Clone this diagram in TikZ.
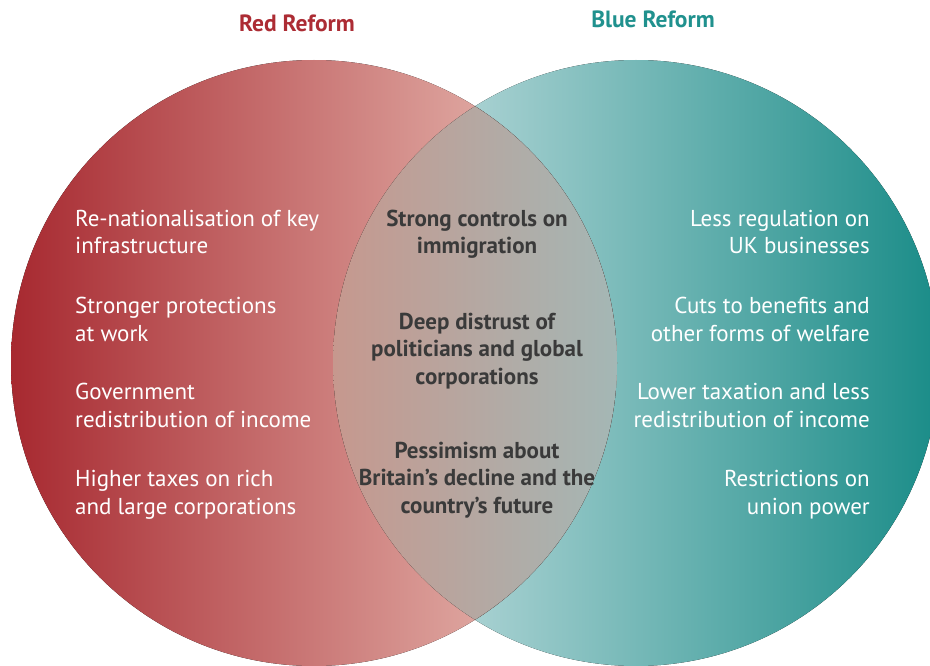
\documentclass[tikz,border=0pt]{standalone}
\usepackage{fontspec}
\setmainfont{PT Sans}
\usepackage{tikz}
\usetikzlibrary{positioning}

\definecolor{redDark}{RGB}{167,41,48}
\definecolor{redMid}{RGB}{210,134,121}
\definecolor{redLight}{RGB}{238,201,191}
\definecolor{blueLight}{RGB}{210,229,231}
\definecolor{blueMid}{RGB}{140,188,188}
\definecolor{blueDark}{RGB}{26,140,136}
\definecolor{lensLeft}{RGB}{198,152,142}
\definecolor{lensMid}{RGB}{182,168,160}
\definecolor{lensRight}{RGB}{164,183,181}
\definecolor{redTitle}{RGB}{172,44,52}
\definecolor{blueTitle}{RGB}{32,145,142}
\definecolor{ink}{RGB}{58,58,58}

\begin{document}
\begin{tikzpicture}[x=1pt,y=-1pt,
	point/.style={font=\fontsize{23}{27.5}\selectfont, text=white, inner sep=0pt},
	leftpoint/.style={point, align=left, anchor=base west},
	rightpoint/.style={point, align=right, anchor=base east},
	shared/.style={font=\fontsize{23}{27.5}\selectfont\bfseries, text=ink, inner sep=0pt, align=center, anchor=base},
	heading/.style={font=\fontsize{23.5}{27}\selectfont\bfseries, inner sep=0pt, anchor=base}]
\useasboundingbox (0,0) rectangle (930,666);

% the two sets
\fill[left color=blueLight, middle color=blueMid, right color=blueDark] (636,363) circle (303);
\fill[left color=redDark, middle color=redMid, right color=redLight] (314,363) circle (303);
% overlap
\begin{scope}
	\clip (314,363) circle (303);
	\clip (636,363) circle (303);
	\fill[left color=lensLeft, middle color=lensMid, right color=lensRight] (333,100) rectangle (617,626);
\end{scope}

\node[heading, text=redTitle] (redTitle) at (297,32) {Red Reform};
\node[heading, text=blueTitle] (blueTitle) at (653,28) {Blue Reform};

% red side (positions are last-line baselines)
\node[leftpoint] (r1) at (75,254) {Re-nationalisation of key\\infrastructure};
\node[leftpoint] (r2) at (75,341) {Stronger protections\\at work};
\node[leftpoint] (r3) at (75,427) {Government\\redistribution of income};
\node[leftpoint] (r4) at (75,514) {Higher taxes on rich\\and large corporations};

% shared ground
\node[shared] (s1) at (477,254) {Strong controls on\\immigration};
\node[shared] (s2) at (477,384) {Deep distrust of\\politicians and global\\corporations};
\node[shared] (s3) at (477,513) {Pessimism about\\Britain’s decline and the\\country’s future};

% blue side
\node[rightpoint] (b1) at (870,254) {Less regulation on\\UK businesses};
\node[rightpoint] (b2) at (870,341) {Cuts to benefits and\\other forms of welfare};
\node[rightpoint] (b3) at (870,427) {Lower taxation and less\\redistribution of income};
\node[rightpoint] (b4) at (870,514) {Restrictions on\\union power};
\end{tikzpicture}
\end{document}
